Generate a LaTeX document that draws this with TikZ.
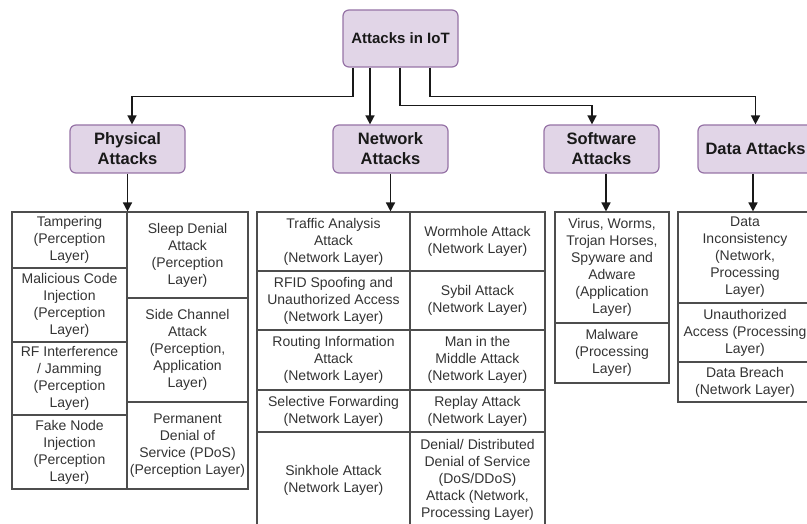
\documentclass[tikz,border=0pt]{standalone}
\usepackage{fontspec}
\setmainfont{Liberation Sans}
\usepackage{tikz}
\usetikzlibrary{arrows.meta}
\definecolor{groupfill}{HTML}{E1D5E7}
\definecolor{groupline}{HTML}{9673A6}
\definecolor{cellline}{HTML}{4D4D4D}
\definecolor{celltext}{HTML}{333333}
\tikzset{
  groupbox/.style={draw=groupline, fill=groupfill, line width=1.2pt, rounded corners=6pt, align=center, inner sep=0pt, font=\bfseries\fontsize{16.5}{20}\selectfont, text=black!90},
  cell/.style={draw=cellline, line width=1.1pt, align=center, inner sep=0pt, text=celltext, font=\fontsize{14}{17}\selectfont},
  arrowline/.style={draw=black!90, line width=1.5pt, -{Triangle[length=9pt,width=9pt]}}
}
\newcommand{\attackgroup}[4] {\node at (#1) (#2) [groupbox, minimum width=115pt, minimum height=#3pt] {#4};}
\newcommand{\attackcell}[5] {\node at (#1) (#2) [cell, minimum width=#3pt, minimum height=#4pt] {#5};}

\begin{document}
\begin{tikzpicture}[x=1pt, y=-1pt]
\useasboundingbox (0,0) rectangle (807,524);

% root and categories
\attackgroup{400.5,38.5}{iot}{57}{\fontsize{15}{18}\selectfont Attacks in IoT};
\attackgroup{127.5,149}{phys}{48}{Physical\\Attacks};
\attackgroup{390.5,149}{net}{48}{Network\\Attacks};
\attackgroup{601.5,149}{soft}{48}{Software\\Attacks};
\attackgroup{755.5,149}{data}{48}{Data Attacks};

% physical attacks
\attackcell{69.5,240}{tamper}{115}{56}{Tampering\\(Perception\\Layer)};
\attackcell{69.5,305}{malcode}{115}{74}{Malicious Code\\Injection\\(Perception\\Layer)};
\attackcell{69.5,378.5}{rfjam}{115}{73}{RF Interference\\/ Jamming\\(Perception\\Layer)};
\attackcell{69.5,452}{fakenode}{115}{74}{Fake Node\\Injection\\(Perception\\Layer)};
\attackcell{187.5,255}{sleep}{121}{86}{Sleep Denial\\Attack\\(Perception\\Layer)};
\attackcell{187.5,350}{sidechan}{121}{104}{Side Channel\\Attack\\(Perception,\\Application\\Layer)};
\attackcell{187.5,445.5}{pdos}{121}{87}{Permanent\\Denial of\\Service (PDoS)\\(Perception Layer)};

% network attacks
\attackcell{333.5,241.5}{traffic}{153}{59}{Traffic Analysis\\Attack\\(Network Layer)};
\attackcell{333.5,300.5}{rfid}{153}{59}{RFID Spoofing and\\Unauthorized Access\\(Network Layer)};
\attackcell{333.5,360}{routing}{153}{60}{Routing Information\\Attack\\(Network Layer)};
\attackcell{333.5,411}{selfwd}{153}{42}{Selective Forwarding\\(Network Layer)};
\attackcell{333.5,480}{sinkhole}{153}{96}{Sinkhole Attack\\(Network Layer)};
\attackcell{477.5,241.5}{wormhole}{135}{59}{Wormhole Attack\\(Network Layer)};
\attackcell{477.5,300.5}{sybil}{135}{59}{Sybil Attack\\(Network Layer)};
\attackcell{477.5,360}{mitm}{135}{60}{Man in the\\Middle Attack\\(Network Layer)};
\attackcell{477.5,411}{replay}{135}{42}{Replay Attack\\(Network Layer)};
\attackcell{477.5,480}{ddos}{135}{96}{Denial/ Distributed\\Denial of Service\\(DoS/DDoS)\\Attack (Network,\\Processing Layer)};

% software attacks
\attackcell{612,267.5}{virus}{114}{111}{Virus, Worms,\\Trojan Horses,\\Spyware and\\Adware\\(Application\\Layer)};
\attackcell{612,353}{malware}{114}{60}{Malware\\(Processing\\Layer)};

% data attacks
\attackcell{745,257.5}{incons}{134}{91}{Data\\Inconsistency\\(Network,\\Processing\\Layer)};
\attackcell{745,332.5}{unauth}{134}{59}{Unauthorized\\Access (Processing\\Layer)};
\attackcell{745,382}{breach}{134}{40}{Data Breach\\(Network Layer)};

% connectors
\draw [arrowline] ([xshift=-47.5pt]iot.south) -- ++(0,29) -| ([xshift=4.5pt]phys.north);
\draw [arrowline] ([xshift=-30.5pt]iot.south) -- ([xshift=-30.5pt]iot.south |- net.north);
\draw [arrowline] ([xshift=-0.5pt]iot.south) -- ++(0,38) -| ([xshift=-9.5pt]soft.north);
\draw [arrowline] ([xshift=29.5pt]iot.south) -- ++(0,29) -| (data.north);

\draw [arrowline] (phys.south) -- (phys.south |- tamper.north);
\draw [arrowline] (net.south) -- (net.south |- traffic.north);
\draw [arrowline] ([xshift=4.5pt]soft.south) -- ([xshift=4.5pt]soft.south |- virus.north);
\draw [arrowline] ([xshift=-2.5pt]data.south) -- ([xshift=-2.5pt]data.south |- incons.north);

\end{tikzpicture}
\end{document}
